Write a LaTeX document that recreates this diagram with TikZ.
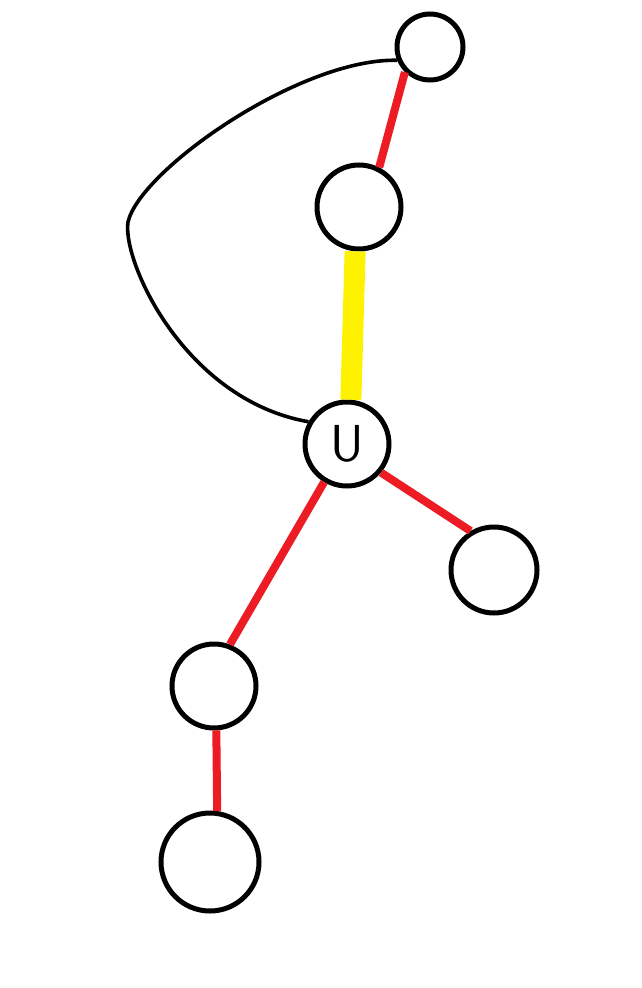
\documentclass[tikz,border=0pt]{standalone}
\definecolor{pred}{HTML}{ED1C24}
\definecolor{pyellow}{HTML}{FFF200}
\tikzset{
  vtx/.style={circle,draw=black,line width=5pt,inner sep=0pt,fill=white},
  redge/.style={draw=pred,line width=8pt},
  yedge/.style={draw=pyellow,line width=21pt},
  arc/.style={draw=black,line width=3.6pt}
}
\begin{document}
\begin{tikzpicture}[x=1pt,y=-1pt]
\useasboundingbox (0,0) rectangle (642,988);
\node[vtx,minimum size=66pt] (top) at (430,47) {};
\node[vtx,minimum size=84pt] (sec) at (359,207) {};
\node[vtx,minimum size=84pt,font=\fontsize{52}{52}\sffamily] (u) at (347,444) {U};
\node[vtx,minimum size=86pt] (rt) at (494,570) {};
\node[vtx,minimum size=84pt] (ll) at (214,686) {};
\node[vtx,minimum size=98pt] (bot) at (210,862) {};
\coordinate (bend) at (128,222);
\draw[arc] (top.202) .. controls (300,58) and (140,170) .. (bend)
  .. controls (122,262) and (185,400) .. (u.150);
\draw[redge] (top.225) -- (sec.63);
\draw[yedge] (sec.-95.6) -- (u.85.6);
\draw[redge] (u.-40) -- (rt.121);
\draw[redge] (u.-121.7) -- (ll.69);
\draw[redge] (ll.-87) -- (bot.82);
\end{tikzpicture}
\end{document}
